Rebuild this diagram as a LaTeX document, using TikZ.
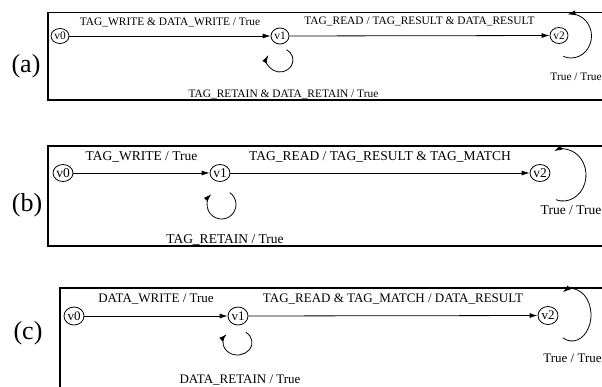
\documentclass[tikz,border=0pt]{standalone}
\usepackage{fontspec}
\setmainfont{Liberation Serif}
\usetikzlibrary{arrows.meta,shapes.geometric}
\begin{document}
\begin{tikzpicture}[x=1pt,y=1pt,
  frame/.style={line width=1.8pt},
  state/.style={draw, ellipse, line width=0.8pt, inner sep=0pt,
    minimum width=19pt, minimum height=17pt},
  trans/.style={line width=0.8pt, -{Latex[length=8pt,width=5pt]}},
  lbl/.style={anchor=base, inner sep=0pt},
  tag/.style={font=\fontsize{26}{28}\selectfont, inner sep=0pt}]
\useasboundingbox (0,0) rectangle (602,-386);
\clip (0,0) rectangle (602,-386);

% ---------- (a) ----------
\node[tag] (la) at (26,-66) {(a)};
\draw[frame] (604,-12.5) -- (48,-12.5) -- (48,-100) -- (604,-100);
\begin{scope}[font=\fontsize{11.4}{13}\selectfont]
  \node[state, minimum width=18pt, minimum height=15pt] (a0) at (60,-36) {v0};
  \node[state, minimum width=18pt, minimum height=16pt] (a1) at (280,-36) {v1};
  \node[state, minimum width=18pt, minimum height=16pt] (a2) at (559,-35.5) {v2};
  \draw[trans] (a0) -- node[midway, lbl, yshift=11pt] {TAG\_WRITE \& DATA\_WRITE / True} (a1);
  \draw[trans] (a1) -- node[midway, lbl, yshift=11pt] {TAG\_READ / TAG\_RESULT \& DATA\_RESULT} (a2);
  \coordinate (a1c) at (280,-60);
  \draw[trans] ([shift={(60:13pt and 12pt)}]a1c)
    arc[start angle=60, end angle=-205, x radius=13pt, y radius=12pt];
  \coordinate (a2c) at (571,-36);
  \draw[trans] ([shift={(-112:20.5pt and 22pt)}]a2c)
    arc[start angle=-112, end angle=100, x radius=20.5pt, y radius=22pt];
  \node[lbl] (a1l) at (283.5,-97) {TAG\_RETAIN \& DATA\_RETAIN / True};
  \node[lbl] (a2l) at (576,-80.5) {True / True};
\end{scope}

% ---------- (b) ----------
\node[tag] (lb) at (27,-205) {(b)};
\draw[frame] (604,-146) -- (48,-146) -- (48,-246) -- (604,-246);
\begin{scope}[font=\fontsize{13.5}{15}\selectfont]
  \node[state, minimum width=20pt] (b0) at (63,-173) {v0};
  \node[state, minimum width=20pt] (b1) at (220,-173) {v1};
  \node[state, minimum width=20pt] (b2) at (540,-173) {v2};
  \draw[trans] (b0) -- node[midway, lbl, yshift=13pt] {TAG\_WRITE / True} (b1);
  \draw[trans] (b1) -- node[midway, lbl, yshift=13pt] {TAG\_READ / TAG\_RESULT \& TAG\_MATCH} (b2);
  \coordinate (b1c) at (221.5,-204.5);
  \draw[trans] ([shift={(55:14.5pt and 14.5pt)}]b1c)
    arc[start angle=55, end angle=-226, x radius=14.5pt, y radius=14.5pt];
  \coordinate (b2c) at (563,-175);
  \draw[trans] ([shift={(-108:23pt and 26pt)}]b2c)
    arc[start angle=-108, end angle=113, x radius=23pt, y radius=26pt];
  \node[lbl] (b1l) at (225,-243) {TAG\_RETAIN / True};
  \node[lbl] (b2l) at (571,-214) {True / True};
\end{scope}

% ---------- (c) ----------
\node[tag] (lc) at (28,-333) {(c)};
\draw[frame] (604,-288) -- (60,-288) -- (60,-390);
\begin{scope}[font=\fontsize{13}{15}\selectfont]
  \node[state, minimum width=20pt, minimum height=18pt] (c0) at (74,-316) {v0};
  \node[state, minimum width=20pt, minimum height=18pt] (c1) at (238,-316) {v1};
  \node[state, minimum width=20pt, minimum height=18pt] (c2) at (548,-315.5) {v2};
  \draw[trans] (c0) -- node[midway, lbl, yshift=13.5pt] {DATA\_WRITE / True} (c1);
  \draw[trans] (c1) -- node[midway, lbl, yshift=13.5pt] {TAG\_READ \& TAG\_MATCH / DATA\_RESULT} (c2);
  \coordinate (c1c) at (237.5,-342.5);
  \draw[trans] ([shift={(55:14.5pt and 12.5pt)}]c1c)
    arc[start angle=55, end angle=-222, x radius=14.5pt, y radius=12.5pt];
  \coordinate (c2c) at (572,-315);
  \draw[trans] ([shift={(-119:19pt and 26pt)}]c2c)
    arc[start angle=-119, end angle=119, x radius=19pt, y radius=26pt];
  \node[lbl] (c1l) at (240,-383) {DATA\_RETAIN / True};
  \node[lbl] (c2l) at (572.5,-362) {True / True};
\end{scope}
\end{tikzpicture}
\end{document}
